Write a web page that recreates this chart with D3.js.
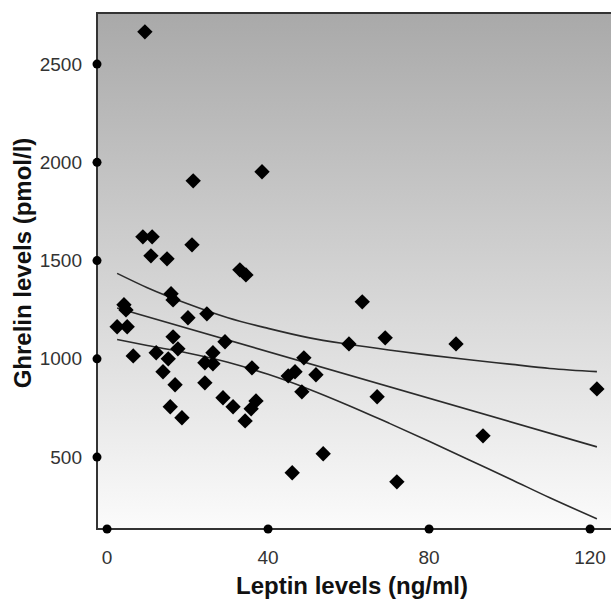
<!DOCTYPE html>
<html>
<head>
<meta charset="utf-8">
<script src="https://cdn.jsdelivr.net/npm/d3@7"></script>
<style>
    body { margin: 0; background: #fff; }
    svg { display: block; font-family: 'Liberation Sans', Arial, sans-serif; }
</style>
</head>
<body>
<svg id="chart"></svg>
<script>
// Leptin (ng/ml) and ghrelin (pmol/l) for each subject
const leptin = [9.4, 21.4, 38.5, 8.9, 11.2, 10.9, 14.9, 21.1, 33.0, 34.5,
    15.9, 16.4, 4.2, 4.7, 24.8, 20.1, 2.5, 5.0, 16.4, 29.3,
    17.6, 6.5, 12.2, 26.3, 15.2, 24.3, 26.3, 36.0, 48.9, 45.0,
    46.7, 51.9, 13.9, 24.3, 16.9, 48.4, 28.8, 31.3, 37.0, 35.8,
    34.3, 15.7, 18.6, 60.1, 63.4, 69.1, 86.7, 67.1, 93.4, 121.7,
    46.0, 53.7, 72.0];
const ghrelin = [2664, 1906, 1952, 1621, 1621, 1524, 1509, 1580, 1453, 1427,
    1331, 1300, 1275, 1249, 1229, 1209, 1163, 1163, 1112, 1087,
    1051, 1015, 1031, 1031, 1000, 980, 975, 954, 1005, 913,
    934, 919, 934, 878, 868, 832, 802, 756, 786, 746,
    684, 756, 700, 1076, 1290, 1107, 1076, 807, 608, 847,
    420, 517, 374];

// regression line and its confidence band
const fitX = [2.5, 121.7];
const fitY = [1259, 552];
const bandX = [2.5, 10, 20, 30, 40, 50, 60, 70, 80, 90, 100, 110, 121.7];
const bandUpper = [1435, 1362, 1280, 1209, 1155, 1108, 1074, 1045, 1019, 995, 973, 951, 935];
const bandLower = [1098, 1068, 1030, 983, 921, 847, 763, 673, 581, 485, 390, 293, 186];

const xTicks = [0, 40, 80, 120];
const yTicks = [500, 1000, 1500, 2000, 2500];

function drawScatter() {
    const width = 611;
    const height = 602;
    const plot = { left: 97, right: 611, top: 13, bottom: 529 };

    const svg = d3.select('#chart')
        .attr('width', width)
        .attr('height', height);

    const x = d3.scaleLinear()
        .domain([-2.5, 125.2])
        .range([plot.left, plot.right]);
    const y = d3.scaleLinear()
        .domain([134, 2760])
        .range([plot.bottom, plot.top]);

    // grey background fading to white
    const grad = svg.append('defs').append('linearGradient')
        .attr('id', 'bg')
        .attr('x1', 0).attr('y1', 0)
        .attr('x2', 0).attr('y2', 1);
    grad.append('stop').attr('offset', '0%').attr('stop-color', '#a9a9a9');
    grad.append('stop').attr('offset', '100%').attr('stop-color', '#fbfbfb');

    svg.append('rect')
        .attr('x', plot.left)
        .attr('y', plot.top)
        .attr('width', plot.right - plot.left)
        .attr('height', plot.bottom - plot.top)
        .attr('fill', 'url(#bg)');

    // fit lines
    const line = d3.line()
        .x(d => x(d[0]))
        .y(d => y(d[1]))
        .curve(d3.curveMonotoneX);

    const lines = [
        d3.zip(fitX, fitY),
        d3.zip(bandX, bandUpper),
        d3.zip(bandX, bandLower)
    ];
    svg.selectAll('.fit')
        .data(lines)
        .enter().append('path')
        .attr('class', 'fit')
        .attr('d', line)
        .attr('fill', 'none')
        .attr('stroke', '#2b2b2b')
        .attr('stroke-width', 1.6);

    // diamonds
    const diamond = d3.symbol(d3.symbolSquare, 118);
    svg.selectAll('.pt')
        .data(d3.zip(leptin, ghrelin))
        .enter().append('path')
        .attr('class', 'pt')
        .attr('d', diamond)
        .attr('transform', d => `translate(${x(d[0])},${y(d[1])}) rotate(45)`)
        .attr('fill', '#000');

    // frame: left axis, top border, bottom axis
    svg.append('path')
        .attr('d', `M${plot.right},${plot.top}H${plot.left}V${plot.bottom}H${plot.right}`)
        .attr('fill', 'none')
        .attr('stroke', '#333')
        .attr('stroke-width', 2);

    // y ticks are dots on the axis
    svg.selectAll('.ydot')
        .data(yTicks)
        .enter().append('circle')
        .attr('cx', plot.left)
        .attr('cy', d => y(d))
        .attr('r', 4.5)
        .attr('fill', '#000');

    svg.selectAll('.ylab')
        .data(yTicks)
        .enter().append('text')
        .attr('x', 82)
        .attr('y', d => y(d))
        .attr('dy', '0.35em')
        .attr('text-anchor', 'end')
        .style('font-size', '19px')
        .attr('fill', '#333')
        .text(d => d);

    svg.selectAll('.xdot')
        .data(xTicks)
        .enter().append('circle')
        .attr('cx', d => x(d))
        .attr('cy', plot.bottom)
        .attr('r', 4.5)
        .attr('fill', '#000');

    svg.selectAll('.xlab')
        .data(xTicks)
        .enter().append('text')
        .attr('x', d => x(d))
        .attr('y', 564)
        .attr('text-anchor', 'middle')
        .style('font-size', '19px')
        .attr('fill', '#333')
        .text(d => d);

    // axis titles
    svg.append('text')
        .text('Leptin levels (ng/ml)')
        .attr('x', 352)
        .attr('y', 594)
        .attr('text-anchor', 'middle')
        .style('font-size', '24px')
        .style('font-weight', 'bold')
        .attr('fill', '#111');

    svg.append('text')
        .text('Ghrelin levels (pmol/l)')
        .attr('transform', 'translate(31,263) rotate(-90)')
        .attr('text-anchor', 'middle')
        .style('font-size', '24px')
        .style('font-weight', 'bold')
        .attr('fill', '#111');
}

window.addEventListener('load', drawScatter);
</script>
</body>
</html>
